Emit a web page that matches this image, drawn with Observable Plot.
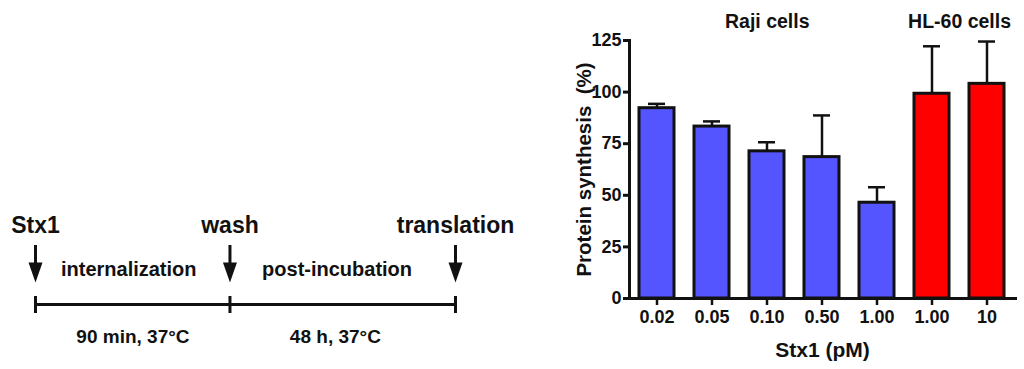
<!DOCTYPE html>
<html>
<head>
<meta charset="utf-8">
<script src="https://cdn.jsdelivr.net/npm/d3@7"></script>
<script src="https://cdn.jsdelivr.net/npm/@observablehq/plot@0.6"></script>
<style>
  html, body { margin: 0; padding: 0; background: #fff; }
  #wrap { position: relative; width: 1024px; height: 369px; overflow: hidden; font-family: "Liberation Sans", Arial, sans-serif; }
  #diagram { position: absolute; left: 0; top: 0; }
  #chart { position: absolute; left: 560px; top: 0; }
  svg { overflow: visible; }
</style>
</head>
<body>
<div id="wrap"><div id="diagram"></div><div id="chart"></div></div>
<script>
// ---- Data: bar chart ----
const doses = ["0.02", "0.05", "0.10", "0.50", "1.00", "1.00", "10"];
const cellLines = ["Raji", "Raji", "Raji", "Raji", "Raji", "HL-60", "HL-60"];
const meanSynthesis = [92.2, 83.3, 71.3, 68.5, 46.4, 99.2, 104.0];
const sdSynthesis = [2.1, 2.5, 4.4, 20.2, 7.5, 23.0, 20.5];
const yTicks = [0, 25, 50, 75, 100, 125];
const groupNames = ["Raji", "HL-60"];
const groupLabels = ["Raji cells", "HL-60 cells"];
const xTitle = "Stx1 (pM)";
const yTitle = "Protein synthesis\u00a0\u00a0(%)";

// ---- Data: timeline schematic ----
const events = ["Stx1", "wash", "translation"];
const phases = ["internalization", "post-incubation"];
const conditions = ["90 min, 37°C", "48 h, 37°C"];

// ---- Layout (schematic positions along the timeline, 0..1) ----
const eventPos = [0, 0.463, 1];
const phasePos = [0.222, 0.718];
const condPos = [0.232, 0.714];

const FONT = "Liberation Sans, Arial, sans-serif";

// ---------- Timeline diagram ----------
const arrowHead = {
  draw(context, size) {
    const r = Math.sqrt(size / Math.PI);
    context.moveTo(-0.7 * r, -r);
    context.lineTo(0.7 * r, -r);
    context.lineTo(0, r);
    context.closePath();
  }
};
const ev = events.map((e, i) => ({label: e, pos: eventPos[i]}));
const ph = phases.map((p, i) => ({label: p, pos: phasePos[i]}));
const co = conditions.map((c, i) => ({label: c, pos: condPos[i]}));

const diagram = Plot.plot({
  width: 560, height: 369,
  marginLeft: 0, marginRight: 0, marginTop: 0, marginBottom: 0,
  x: {domain: [0, 1], range: [35, 455], axis: null},
  y: {type: "identity", axis: null},
  style: {fontFamily: FONT, background: "transparent"},
  marks: [
    Plot.text(ev, {x: "pos", y: () => 232, text: "label", lineAnchor: "bottom", fontSize: 23, fontWeight: "bold", fill: "#111"}),
    Plot.ruleX(ev, {x: "pos", y1: () => 245, y2: () => 265, stroke: "#111", strokeWidth: 3}),
    Plot.dot(ev, {x: "pos", y: () => 272, r: 10, symbol: arrowHead, fill: "#111", stroke: "none"}),
    Plot.text(ph, {x: "pos", y: () => 275, text: "label", lineAnchor: "bottom", fontSize: 20, fontWeight: "bold", fill: "#111"}),
    Plot.ruleY([0], {y: () => 304, x1: () => eventPos[0], x2: () => eventPos[eventPos.length - 1], stroke: "#111", strokeWidth: 3}),
    Plot.ruleX(ev, {x: "pos", y1: () => 296, y2: () => 313, stroke: "#111", strokeWidth: 3}),
    Plot.text(co, {x: "pos", y: () => 342, text: "label", lineAnchor: "bottom", fontSize: 19, fontWeight: "bold", fill: "#111"})
  ]
});
document.getElementById("diagram").appendChild(diagram);

// ---------- Bar chart ----------
const rows = doses.map((d, i) => ({
  i, dose: d, cell: cellLines[i], mean: meanSynthesis[i], hi: meanSynthesis[i] + sdSynthesis[i]
}));
const W = 464, ML = 69, MR = 9, MT = 40, MB = 71;
const step = (W - ML - MR) / doses.length;
const groups = groupNames.map((g, k) => {
  const idx = rows.filter(r => r.cell === g).map(r => r.i);
  return {label: groupLabels[k], first: idx[0], last: idx[idx.length - 1]};
});
const groupMarks = groups.map(g =>
  Plot.text([g], {x: "first", frameAnchor: "top", dx: (g.last - g.first) / 2 * step, dy: -13,
    text: "label", lineAnchor: "bottom", fontSize: 19.5, fontWeight: "bold", fill: "#111"})
);

const chart = Plot.plot({
  width: W, height: 369,
  marginLeft: ML, marginRight: MR, marginTop: MT, marginBottom: MB,
  x: {type: "band", domain: d3.range(doses.length), paddingInner: 0.36, paddingOuter: 0.18, axis: null},
  y: {domain: [0, 125], axis: null},
  color: {domain: groupNames, range: ["#5555FF", "#FF0000"]},
  style: {fontFamily: FONT, background: "transparent", color: "#111"},
  marks: [
    Plot.ruleX(rows, {x: "i", y1: "mean", y2: "hi", stroke: "#111", strokeWidth: 2.5}),
    Plot.tickY(rows, {x: "i", y: "hi", stroke: "#111", strokeWidth: 2.5, insetLeft: 9, insetRight: 9}),
    Plot.barY(rows, {x: "i", y: "mean", fill: "cell", stroke: "#111", strokeWidth: 3}),
    Plot.frame({anchor: "left", stroke: "#111", strokeWidth: 3}),
    Plot.frame({anchor: "bottom", stroke: "#111", strokeWidth: 3}),
    Plot.axisY({ticks: yTicks, tickSize: 6, tickPadding: 2, strokeWidth: 3, fontSize: 18, fontWeight: "bold", label: null, tickFormat: d => String(d)}),
    Plot.axisX({tickSize: 7, tickPadding: 5, strokeWidth: 2.5, fontSize: 18, fontWeight: "bold", label: null, tickFormat: i => doses[i]}),
    Plot.text([xTitle], {frameAnchor: "bottom", dy: 58, lineAnchor: "bottom", fontSize: 21, fontWeight: "bold", fill: "#111"}),
    Plot.text([yTitle], {frameAnchor: "left", textAnchor: "middle", rotate: -90, dx: -39, lineAnchor: "bottom", fontSize: 20.5, fontWeight: "bold", fill: "#111"}),
    ...groupMarks
  ]
});
document.getElementById("chart").appendChild(chart);
</script>
</body>
</html>
